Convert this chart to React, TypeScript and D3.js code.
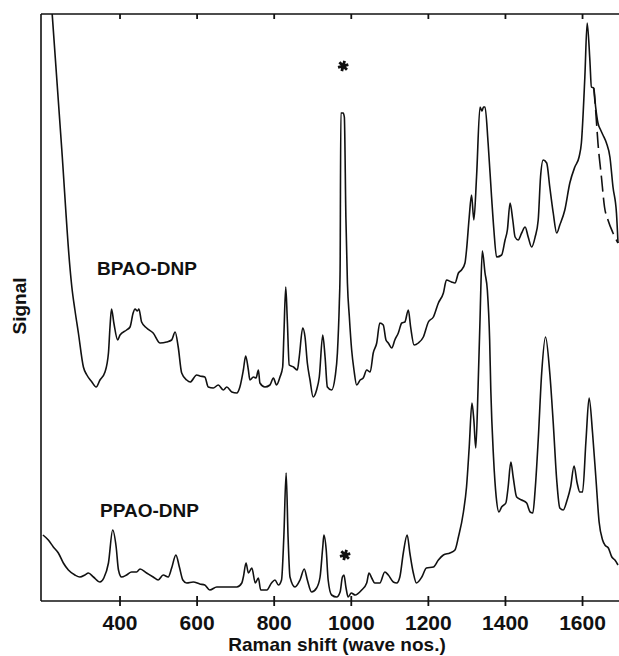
import React from "react";
import * as d3 from "d3";

// BPAO-DNP trace: wavenumber (cm-1) and signal (arbitrary units, height above baseline)
const bpaoWn = [
  224, 249, 270, 275, 283, 292, 305, 314, 327, 338, 348, 361, 370, 374, 378, 384,
  394, 400, 417, 426, 434, 439, 445, 449, 456, 469, 486, 504, 521, 534, 543, 551,
  560, 573, 582, 599, 607, 620, 629, 642, 655, 668, 677, 690, 703, 711, 720, 726,
  733, 737, 746, 753, 759, 763, 776, 789, 798, 806, 815, 822, 825, 830, 834, 839,
  850, 860, 865, 874, 880, 886, 893, 901, 910, 917, 926, 932, 938, 949, 958, 964,
  969, 971, 973, 979, 982, 986, 990, 995, 1001, 1007, 1014, 1023, 1031, 1040, 1049,
  1057, 1066, 1074, 1083, 1090, 1096, 1105, 1113, 1122, 1131, 1139, 1148, 1154,
  1163, 1174, 1187, 1200, 1213, 1226, 1239, 1247, 1260, 1269, 1278, 1286, 1295,
  1299, 1306, 1312, 1318, 1325, 1334, 1339, 1343, 1347, 1355, 1364, 1370, 1377,
  1390, 1399, 1405, 1412, 1419, 1425, 1433, 1442, 1451, 1459, 1468, 1477, 1485,
  1491, 1498, 1507, 1515, 1524, 1533, 1541, 1554, 1567, 1580, 1591, 1597, 1606,
  1612, 1619, 1623, 1629, 1634, 1640, 1647, 1653, 1662, 1671, 1679, 1688, 1692,
];
const bpaoSignal = [
  587, 451, 334, 314, 291, 268, 234, 226, 219, 214, 221, 229, 248, 274, 292, 278,
  261, 266, 271, 274, 288, 292, 290, 292, 279, 273, 268, 258, 259, 261, 269, 254,
  228, 221, 219, 226, 225, 224, 214, 213, 216, 211, 214, 209, 208, 214, 231, 245,
  231, 221, 224, 223, 231, 218, 214, 216, 223, 216, 224, 234, 264, 314, 281, 236,
  234, 231, 244, 273, 264, 238, 221, 204, 211, 224, 266, 244, 214, 211, 224, 248,
  298, 331, 488, 488, 484, 384, 318, 284, 251, 231, 216, 221, 223, 231, 229,
  248, 258, 278, 276, 261, 258, 253, 261, 268, 278, 279, 291, 274,
  256, 258, 264, 279, 284, 298, 308, 321, 319, 318, 328, 331, 338,
  351, 384, 406, 381, 424, 494, 490, 494, 494, 458, 404, 371, 344,
  346, 361, 371, 398, 381, 364, 361, 368, 374, 364, 354, 364, 381,
  424, 441, 438, 414, 388, 368, 376, 391, 418, 434, 444, 458, 524,
  578, 541, 514, 513, 494, 478, 471, 466, 458, 444, 414, 388, 358,
];

// BPAO-DNP alternative (dashed) tail
const dashWn = [1629, 1634, 1640, 1649, 1657, 1666, 1679, 1692];
const dashSignal = [513, 491, 458, 424, 394, 381, 368, 358];

// PPAO-DNP trace
const ppaoWn = [
  200, 214, 227, 240, 253, 266, 283, 296, 309, 318, 331, 348, 358, 370, 381, 390,
  396, 404, 417, 430, 443, 452, 469, 486, 499, 512, 525, 534, 545, 554, 563, 573,
  590, 607, 620, 633, 651, 668, 685, 703, 716, 720, 727, 733, 742, 751, 759, 765,
  781, 793, 802, 811, 819, 825, 831, 836, 841, 854, 867, 878, 886, 897, 910, 919,
  926, 929, 935, 940, 949, 962, 971, 977, 981, 986, 992, 1000, 1010, 1027, 1040,
  1046, 1053, 1061, 1074, 1087, 1096, 1109, 1118, 1126, 1135, 1145, 1152, 1161,
  1169, 1183, 1195, 1213, 1226, 1239, 1256, 1269, 1278, 1291, 1299, 1306, 1313,
  1318, 1323, 1329, 1334, 1336, 1340, 1347, 1353, 1359, 1362, 1369, 1376, 1383,
  1390, 1401, 1407, 1414, 1420, 1429, 1442, 1455, 1464, 1471, 1477, 1485, 1494,
  1504, 1515, 1524, 1533, 1541, 1550, 1560, 1569, 1578, 1586, 1593, 1600, 1609,
  1617, 1626, 1635, 1643, 1652, 1658, 1667, 1676, 1684, 1692,
];
const ppaoSignal = [
  66, 61, 54, 48, 38, 31, 26, 24, 26, 28, 24, 19, 23, 38, 71, 54,
  31, 24, 26, 29, 29, 32, 28, 24, 21, 26, 24, 33, 46, 34, 21, 18,
  19, 17, 16, 11, 14, 14, 14, 14, 18, 24, 38, 28, 33, 18, 23, 11,
  11, 18, 21, 16, 21, 64, 128, 64, 24, 14, 21, 32, 21, 9, 13, 24,
  54, 66, 51, 21, 6, 4, 9, 24, 26, 14, 4, 8, 6, 11, 18,
  28, 23, 18, 18, 29, 26, 19, 18, 24, 48, 66, 48, 28,
  18, 24, 33, 34, 41, 46, 48, 51, 64, 89, 114, 154, 198,
  181, 153, 214, 281, 311, 350, 328, 311, 261, 211, 144, 104, 89,
  94, 98, 114, 139, 124, 104, 101, 98, 89, 88, 111, 161, 228,
  264, 228, 178, 121, 93, 91, 101, 114, 135, 118, 109, 109, 161,
  203, 168, 121, 79, 61, 56, 53, 44, 41, 36,
];

const xTicks = [400, 600, 800, 1000, 1200, 1400, 1600];

// starred (solvent) bands: [wavenumber, signal]
const starMarks: [number, number][] = [
  [979, 535],
  [984, 46],
];

const W = 619;
const H = 656;
const FONT = "'Liberation Sans', Arial, Helvetica, sans-serif";

const App = () => {
  const x = d3.scaleLinear().domain([195, 1692]).range([41, 618]);
  const y = d3.scaleLinear().domain([0, 587]).range([601, 14]);

  const line = d3
    .line<[number, number]>()
    .x((d) => x(d[0]))
    .y((d) => y(d[1]))
    .curve(d3.curveMonotoneX);

  const bpao = line(bpaoWn.map((w, i) => [w, bpaoSignal[i]])) || "";
  const dash = line(dashWn.map((w, i) => [w, dashSignal[i]])) || "";
  const ppao = line(ppaoWn.map((w, i) => [w, ppaoSignal[i]])) || "";

  const star = d3.symbol().type(d3.symbolAsterisk).size(80)() || "";

  const [x0] = x.range();
  const [yb, yt] = y.range();

  return (
    <svg
      width={W}
      height={H}
      style={{ position: "absolute", left: 0, top: 0, background: "#fff" }}
    >
      {/* frame */}
      <g stroke="#111" fill="none" strokeWidth={1.6}>
        <line x1={x0} y1={yt} x2={x0} y2={yb} />
        <line x1={x0} y1={yb} x2={W} y2={yb} />
        <line x1={x0} y1={yt} x2={W} y2={yt} />
      </g>

      {/* ticks */}
      <g stroke="#111" strokeWidth={1.8}>
        {xTicks.map((t) => (
          <g key={t}>
            <line x1={x(t)} x2={x(t)} y1={yb - 5} y2={yb + 5} />
            <line x1={x(t)} x2={x(t)} y1={yt} y2={yt + 5} />
          </g>
        ))}
      </g>
      <g
        fontFamily={FONT}
        fontSize={21}
        fontWeight="bold"
        fill="#111"
        textAnchor="middle"
      >
        {xTicks.map((t) => (
          <text key={t} x={x(t)} y={630}>
            {t}
          </text>
        ))}
      </g>

      {/* axis titles */}
      <text
        x={337}
        y={651}
        textAnchor="middle"
        fontFamily={FONT}
        fontSize={19}
        fontWeight="bold"
        fill="#111"
      >
        Raman shift (wave nos.)
      </text>
      <text
        transform="translate(26,306) rotate(-90)"
        textAnchor="middle"
        fontFamily={FONT}
        fontSize={19}
        fontWeight="bold"
        fill="#111"
      >
        Signal
      </text>

      {/* spectra */}
      <g fill="none" stroke="#111" strokeWidth={1.6} strokeLinejoin="round">
        <path d={bpao} />
        <path d={ppao} />
        <path d={dash} strokeDasharray="16,6" />
      </g>

      {/* starred bands */}
      {starMarks.map(([w, s], i) => (
        <path
          key={i}
          d={star}
          transform={`translate(${x(w)},${y(s)}) rotate(15)`}
          stroke="#111"
          strokeWidth={2.8}
          fill="none"
        />
      ))}

      {/* trace labels */}
      <g fontFamily={FONT} fontSize={19} fontWeight="bold" fill="#111">
        <text x={97} y={275}>
          BPAO-DNP
        </text>
        <text x={100} y={517}>
          PPAO-DNP
        </text>
      </g>
    </svg>
  );
};

export default App;
